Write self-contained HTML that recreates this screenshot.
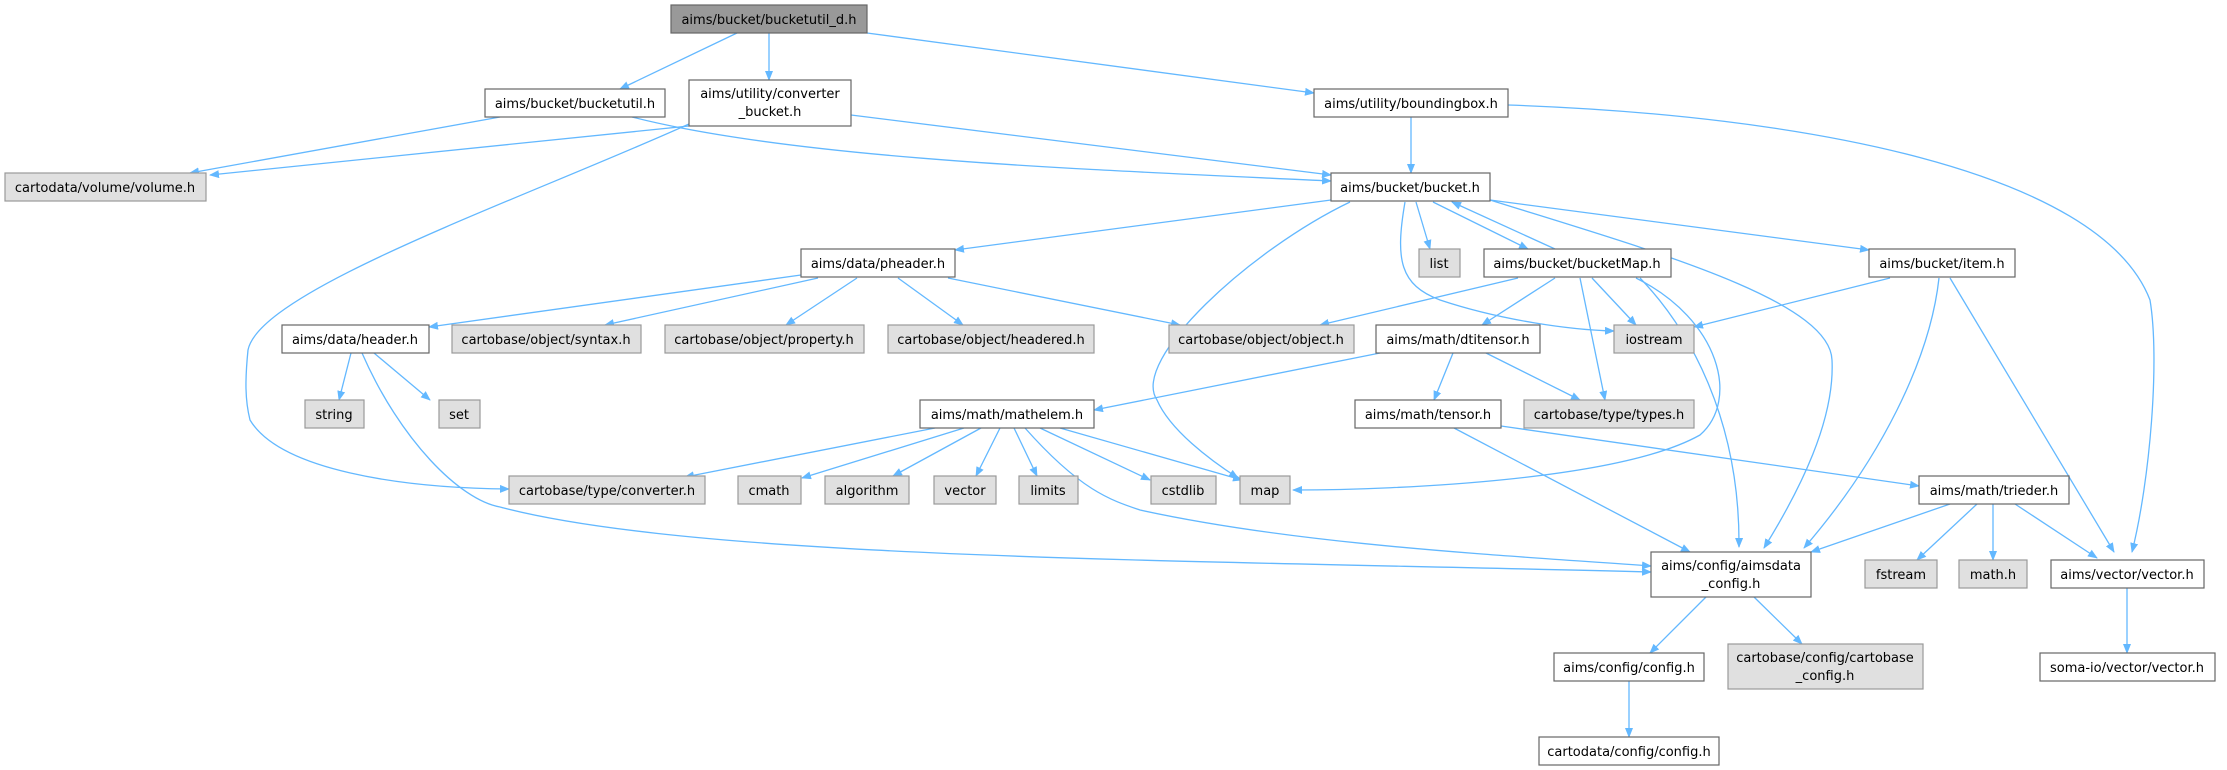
<!DOCTYPE html>
<html><head><meta charset="utf-8"><style>
html,body{margin:0;padding:0;background:#fff;}
svg{display:block;}
text{font-family:"DejaVu Sans","Liberation Sans",sans-serif;font-size:13px;fill:#000;}
.e{fill:none;stroke:#63b8ff;stroke-width:1.3;marker-end:url(#a);}
.n{fill:#fff;stroke:#666;stroke-width:1.2;}
.g{fill:#e0e0e0;stroke:#999;stroke-width:1.2;}
.r{fill:#999;stroke:#666;stroke-width:1.2;}
</style></head><body>
<svg width="2227" height="770" viewBox="0 0 2227 770" xmlns="http://www.w3.org/2000/svg">
<defs><marker id="a" markerWidth="10" markerHeight="8" refX="9" refY="4" orient="auto" markerUnits="userSpaceOnUse"><path d="M0,0 L10,4 L0,8 Z" fill="#63b8ff"/></marker></defs>
<g>
<path class="e" d="M737,33 L620,89"/>
<path class="e" d="M769,33 L769,80"/>
<path class="e" d="M867,33 L1314,93"/>
<path class="e" d="M500,117 L190,173"/>
<path class="e" d="M632,117 C800,160 1100,170 1331,181"/>
<path class="e" d="M689,126 L210,175"/>
<path class="e" d="M689,124 C520,200 260,290 248,350 C245,380 245,400 250,420 C280,470 400,488 509,489"/>
<path class="e" d="M851,115 L1331,175"/>
<path class="e" d="M1411,117 L1411,173"/>
<path class="e" d="M1508,105 C1800,115 2100,170 2150,300 C2160,360 2150,480 2132,552"/>
<path class="e" d="M1331,200 L955,250"/>
<path class="e" d="M1350,202 C1250,250 1130,360 1157,400 C1170,430 1210,460 1238,478"/>
<path class="e" d="M1416,202 L1430,249"/>
<path class="e" d="M1405,202 C1395,260 1400,285 1440,300 C1500,320 1570,330 1614,331"/>
<path class="e" d="M1433,202 L1528,249"/>
<path class="e" d="M1555,249 L1452,202"/>
<path class="e" d="M1490,200 L1869,250"/>
<path class="e" d="M1490,200 C1650,250 1830,300 1832,360 C1835,420 1800,490 1764,548"/>
<path class="e" d="M801,275 L429,327"/>
<path class="e" d="M818,278 L605,325"/>
<path class="e" d="M857,278 L786,325"/>
<path class="e" d="M898,278 L963,325"/>
<path class="e" d="M948,278 L1180,325"/>
<path class="e" d="M351,353 L339,400"/>
<path class="e" d="M374,353 L430,400"/>
<path class="e" d="M362,353 C400,440 460,500 500,507 C700,560 1200,560 1651,572"/>
<path class="e" d="M1518,278 L1320,325"/>
<path class="e" d="M1555,278 L1482,325"/>
<path class="e" d="M1592,278 L1636,325"/>
<path class="e" d="M1580,278 L1605,400"/>
<path class="e" d="M1636,278 C1720,320 1740,400 1700,435 C1620,480 1400,490 1293,490"/>
<path class="e" d="M1640,278 C1690,330 1740,420 1739,547"/>
<path class="e" d="M1890,278 L1694,327"/>
<path class="e" d="M1939,278 C1930,360 1880,460 1804,548"/>
<path class="e" d="M1950,278 L2114,552"/>
<path class="e" d="M1380,353 L1094,410"/>
<path class="e" d="M1453,353 L1434,400"/>
<path class="e" d="M1486,353 L1580,400"/>
<path class="e" d="M1454,428 L1690,552"/>
<path class="e" d="M1501,426 L1919,486"/>
<path class="e" d="M935,428 L685,477"/>
<path class="e" d="M964,428 L802,478"/>
<path class="e" d="M981,428 L893,476"/>
<path class="e" d="M1000,428 L976,476"/>
<path class="e" d="M1014,428 L1037,476"/>
<path class="e" d="M1040,428 L1150,480"/>
<path class="e" d="M1060,428 L1242,480"/>
<path class="e" d="M1025,428 C1080,490 1110,500 1140,510 C1300,545 1500,555 1651,566"/>
<path class="e" d="M1950,504 L1811,552"/>
<path class="e" d="M1977,504 L1917,560"/>
<path class="e" d="M1993,504 L1993,560"/>
<path class="e" d="M2015,504 L2097,558"/>
<path class="e" d="M1706,597 L1650,653"/>
<path class="e" d="M1754,597 L1802,644"/>
<path class="e" d="M1629,681 L1629,737"/>
<path class="e" d="M2127,588 L2127,653"/>
</g>
<g text-anchor="middle">
<rect class="r" x="671" y="5" width="196" height="28"/><text x="769" y="24">aims/bucket/bucketutil_d.h</text>
<rect class="n" x="485" y="89" width="180" height="28"/><text x="575" y="108">aims/bucket/bucketutil.h</text>
<rect class="n" x="689" y="80" width="162" height="46"/><text x="770" y="98">aims/utility/converter</text><text x="770" y="116">_bucket.h</text>
<rect class="g" x="5" y="173" width="201" height="28"/><text x="105" y="192">cartodata/volume/volume.h</text>
<rect class="n" x="1314" y="89" width="194" height="28"/><text x="1411" y="108">aims/utility/boundingbox.h</text>
<rect class="n" x="1331" y="173" width="159" height="28"/><text x="1410" y="192">aims/bucket/bucket.h</text>
<rect class="n" x="801" y="249" width="154" height="28"/><text x="878" y="268">aims/data/pheader.h</text>
<rect class="g" x="1419" y="249" width="41" height="28"/><text x="1439" y="268">list</text>
<rect class="n" x="1484" y="249" width="187" height="28"/><text x="1577" y="268">aims/bucket/bucketMap.h</text>
<rect class="n" x="1869" y="249" width="146" height="28"/><text x="1942" y="268">aims/bucket/item.h</text>
<rect class="n" x="282" y="325" width="147" height="28"/><text x="355" y="344">aims/data/header.h</text>
<rect class="g" x="452" y="325" width="189" height="28"/><text x="546" y="344">cartobase/object/syntax.h</text>
<rect class="g" x="665" y="325" width="199" height="28"/><text x="764" y="344">cartobase/object/property.h</text>
<rect class="g" x="888" y="325" width="206" height="28"/><text x="991" y="344">cartobase/object/headered.h</text>
<rect class="g" x="1169" y="325" width="185" height="28"/><text x="1261" y="344">cartobase/object/object.h</text>
<rect class="n" x="1376" y="325" width="164" height="28"/><text x="1458" y="344">aims/math/dtitensor.h</text>
<rect class="g" x="1614" y="325" width="80" height="28"/><text x="1654" y="344">iostream</text>
<rect class="g" x="305" y="400" width="59" height="28"/><text x="334" y="419">string</text>
<rect class="g" x="439" y="400" width="41" height="28"/><text x="459" y="419">set</text>
<rect class="n" x="920" y="400" width="174" height="28"/><text x="1007" y="419">aims/math/mathelem.h</text>
<rect class="n" x="1355" y="400" width="146" height="28"/><text x="1428" y="419">aims/math/tensor.h</text>
<rect class="g" x="1524" y="400" width="170" height="28"/><text x="1609" y="419">cartobase/type/types.h</text>
<rect class="g" x="509" y="476" width="196" height="28"/><text x="607" y="495">cartobase/type/converter.h</text>
<rect class="g" x="738" y="476" width="63" height="28"/><text x="769" y="495">cmath</text>
<rect class="g" x="825" y="476" width="84" height="28"/><text x="867" y="495">algorithm</text>
<rect class="g" x="934" y="476" width="62" height="28"/><text x="965" y="495">vector</text>
<rect class="g" x="1019" y="476" width="59" height="28"/><text x="1048" y="495">limits</text>
<rect class="g" x="1151" y="476" width="65" height="28"/><text x="1183" y="495">cstdlib</text>
<rect class="g" x="1240" y="476" width="50" height="28"/><text x="1265" y="495">map</text>
<rect class="n" x="1919" y="476" width="150" height="28"/><text x="1994" y="495">aims/math/trieder.h</text>
<rect class="n" x="1651" y="552" width="160" height="45"/><text x="1731" y="570">aims/config/aimsdata</text><text x="1731" y="588">_config.h</text>
<rect class="g" x="1865" y="560" width="72" height="28"/><text x="1901" y="579">fstream</text>
<rect class="g" x="1959" y="560" width="68" height="28"/><text x="1993" y="579">math.h</text>
<rect class="n" x="2051" y="560" width="153" height="28"/><text x="2127" y="579">aims/vector/vector.h</text>
<rect class="n" x="1554" y="653" width="150" height="28"/><text x="1629" y="672">aims/config/config.h</text>
<rect class="g" x="1728" y="644" width="195" height="45"/><text x="1825" y="662">cartobase/config/cartobase</text><text x="1825" y="680">_config.h</text>
<rect class="n" x="2040" y="653" width="175" height="28"/><text x="2127" y="672">soma-io/vector/vector.h</text>
<rect class="n" x="1539" y="737" width="180" height="28"/><text x="1629" y="756">cartodata/config/config.h</text>
</g>
</svg>
</body></html>
